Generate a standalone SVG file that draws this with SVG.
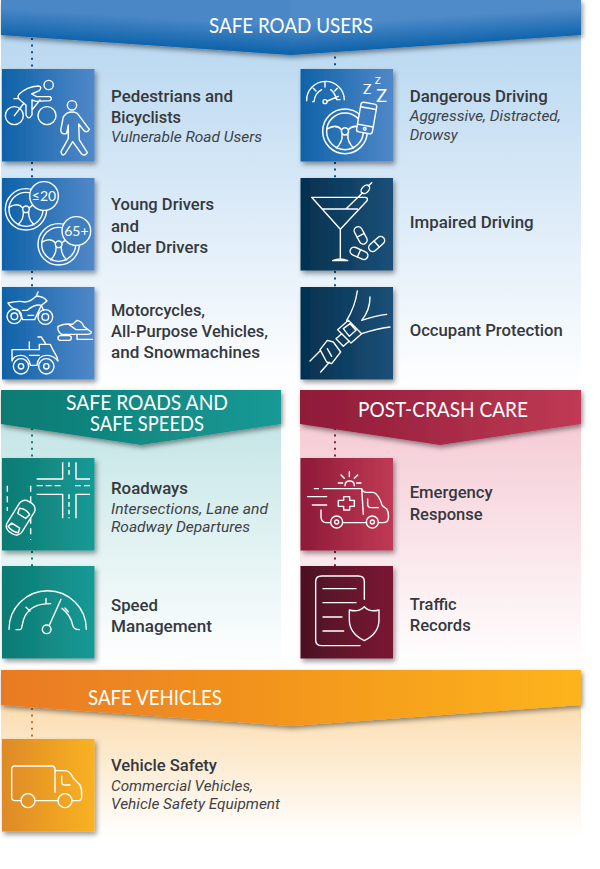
<svg xmlns="http://www.w3.org/2000/svg" xmlns:xlink="http://www.w3.org/1999/xlink" width="600" height="869" viewBox="0 0 600 869">
<style>
.t{font-family:"Roboto","Liberation Sans",sans-serif;font-weight:500;font-size:16.5px;fill:#35383d}
.s{font-family:"Roboto","Liberation Sans",sans-serif;font-weight:400;font-style:italic;font-size:15px;fill:#3f4247}
.b{font-family:"Lato","Liberation Sans",sans-serif;font-weight:400;font-size:21px;fill:#fff}
.i{fill:none;stroke:#fff;stroke-width:4.2;stroke-linecap:round;stroke-linejoin:round}
.d{fill:none;stroke-width:2;stroke-dasharray:2 4.6}
.l{font-family:"Lato","Liberation Sans",sans-serif;fill:#fff;stroke:none;font-size:42px}
</style>
<defs>
<linearGradient id="gB" x1="0" x2="1" y1="0" y2="0"><stop offset="0" stop-color="#0f62a8"/><stop offset="1" stop-color="#5088c8"/></linearGradient>
<linearGradient id="gN" x1="0" x2="1" y1="0" y2="0"><stop offset="0" stop-color="#04304f"/><stop offset="1" stop-color="#1c5078"/></linearGradient>
<linearGradient id="gT" x1="0" x2="1" y1="0" y2="0"><stop offset="0" stop-color="#0e7a72"/><stop offset="1" stop-color="#169a96"/></linearGradient>
<linearGradient id="gC" x1="0" x2="1" y1="0" y2="0"><stop offset="0" stop-color="#8d1a38"/><stop offset="1" stop-color="#c03a54"/></linearGradient>
<linearGradient id="gM" x1="0" x2="1" y1="0" y2="0"><stop offset="0" stop-color="#4e1126"/><stop offset="1" stop-color="#7a1432"/></linearGradient>
<linearGradient id="gO" x1="0" x2="1" y1="0" y2="0"><stop offset="0" stop-color="#de8a25"/><stop offset="1" stop-color="#f9b224"/></linearGradient>
<linearGradient id="bnO" x1="0" x2="1" y1="0" y2="0"><stop offset="0" stop-color="#e97a22"/><stop offset="1" stop-color="#fdb41b"/></linearGradient>
<linearGradient id="bnL" gradientUnits="userSpaceOnUse" x1="146" y1="45" x2="147.700" y2="17"><stop offset="0" stop-color="#0f64ab"/><stop offset="1" stop-color="#4a87c7"/></linearGradient>
<linearGradient id="bnR" gradientUnits="userSpaceOnUse" x1="436" y1="45" x2="434.300" y2="17"><stop offset="0" stop-color="#0f64ab"/><stop offset="1" stop-color="#4f8ac9"/></linearGradient>
<linearGradient id="bgB" x1="0" x2="0" y1="0" y2="1"><stop offset="0" stop-color="#b8d7f0"/><stop offset="1" stop-color="#fff"/></linearGradient>
<linearGradient id="bgT" x1="0" x2="0" y1="0" y2="1"><stop offset="0" stop-color="#c4e5e6"/><stop offset="1" stop-color="#fff"/></linearGradient>
<linearGradient id="bgC" x1="0" x2="0" y1="0" y2="1"><stop offset="0" stop-color="#f5cbd5"/><stop offset="1" stop-color="#fff"/></linearGradient>
<linearGradient id="bgO" x1="0" x2="0" y1="0" y2="1"><stop offset="0" stop-color="#fbdcae"/><stop offset="1" stop-color="#fff"/></linearGradient>
<filter id="sh" x="-15%" y="-15%" width="135%" height="135%"><feDropShadow dx="2" dy="3" stdDeviation="2.5" flood-color="#000" flood-opacity=".4"/></filter>
<filter id="shb" x="-3%" y="-15%" width="106%" height="140%"><feDropShadow dx="1.500" dy="2.500" stdDeviation="2.500" flood-color="#000" flood-opacity=".45"/></filter>
<g id="wheel"><circle r="62"/><circle r="51"/><circle r="10"/><path d="M-51 -6Q-25 -22 -10 -5M51 -6Q25 -22 10 -5M-8 7Q-6 30 -24 46M8 7Q6 30 24 46"/></g>
</defs>

<g id="backgrounds">
<rect x="1" y="30" width="580" height="358" fill="url(#bgB)"/>
<rect x="1" y="420" width="280" height="248" fill="url(#bgT)"/>
<rect x="300" y="420" width="281" height="248" fill="url(#bgC)"/>
<rect x="1" y="700" width="580" height="140" fill="url(#bgO)"/>
</g>

<g id="connectors">
<path class="d" stroke="#0f4f8c" d="M32 38V68M32 162V178M32 271V287"/>
<path class="d" stroke="#0f4f8c" d="M335 50V68M335 162V178M335 271V287"/>
<path class="d" stroke="#0e7a72" d="M32 428V458M32 551V566"/>
<path class="d" stroke="#8d1a38" d="M335 428V458M335 551V566"/>
<path class="d" stroke="#c8701c" d="M32 708V739"/>
</g>

<g id="banner-safe-road-users">
<path d="M1 0H581V35L291 55L1 35Z" fill="#4a87c7" filter="url(#shb)"/>
<path d="M1 0H291.500V55L1 35Z" fill="url(#bnL)"/>
<path d="M291 0H581V35L291 55Z" fill="url(#bnR)"/>
<text class="b" x="209" y="33" textLength="164" lengthAdjust="spacingAndGlyphs">SAFE ROAD USERS</text>
</g>
<g id="banner-safe-roads">
<path d="M1 390H281V424L141 445L1 424Z" fill="url(#gT)" filter="url(#shb)"/>
<text class="b" x="66" y="409.500" textLength="162" lengthAdjust="spacingAndGlyphs">SAFE ROADS AND</text>
<text class="b" x="90" y="431" textLength="114" lengthAdjust="spacingAndGlyphs">SAFE SPEEDS</text>
</g>
<g id="banner-post-crash">
<path d="M300 390H581V424L440 445L300 424Z" fill="url(#gC)" filter="url(#shb)"/>
<text class="b" x="358" y="417" textLength="170" lengthAdjust="spacingAndGlyphs">POST-CRASH CARE</text>
</g>
<g id="banner-safe-vehicles">
<path d="M1 670H581V705L291 726L1 705Z" fill="url(#bnO)" filter="url(#shb)"/>
<text class="b" x="88" y="704.500" textLength="134" lengthAdjust="spacingAndGlyphs">SAFE VEHICLES</text>
</g>

<g id="node-pedestrians">
<rect x="2" y="69" width="92.500" height="92.500" fill="url(#gB)" filter="url(#sh)"/>
<g class="i" transform="scale(.33333)">
<circle cx="146" cy="255" r="14"/><circle cx="43" cy="347" r="27"/><circle cx="141" cy="347" r="27"/>
<path d="M42 296H52M57 283Q80 260 115 258Q128 260 118 272L95 282L110 290H150Q158 296 150 302L108 304L96 300V345Q86 362 78 345V315L60 300Q50 292 57 283ZM43 347L70 312M96 330L120 300"/>
<circle cx="216" cy="316" r="14"/>
<path d="M200 340Q216 332 232 340L268 388Q262 400 252 392L236 372L238 420L262 458Q255 470 245 462L218 425L195 462Q185 470 183 455L205 415V375L200 400Q185 405 182 392L190 350Z"/>
</g>
<text class="t" x="111" y="102" textLength="122" lengthAdjust="spacingAndGlyphs">Pedestrians and</text>
<text class="t" x="111" y="123" textLength="70" lengthAdjust="spacingAndGlyphs">Bicyclists</text>
<text class="s" x="111" y="142" textLength="151" lengthAdjust="spacingAndGlyphs">Vulnerable Road Users</text>
</g>

<g id="node-young-older">
<rect x="2" y="178" width="92.500" height="92.500" fill="url(#gB)" filter="url(#sh)"/>
<g class="i" transform="scale(.33333)">
<use xlink:href="#wheel" href="#wheel" x="78" y="628"/>
<circle cx="132" cy="588" r="43" fill="#2f75b8"/>
<text class="l" x="132" y="603" text-anchor="middle">≤20</text>
<use xlink:href="#wheel" href="#wheel" x="176" y="733"/>
<circle cx="229" cy="693" r="43" fill="#3f7fc0"/>
<text class="l" x="229" y="708" text-anchor="middle">65+</text>
</g>
<text class="t" x="111" y="210" textLength="103" lengthAdjust="spacingAndGlyphs">Young Drivers</text>
<text class="t" x="111" y="231.500" textLength="28" lengthAdjust="spacingAndGlyphs">and</text>
<text class="t" x="111" y="252.500" textLength="97" lengthAdjust="spacingAndGlyphs">Older Drivers</text>
</g>

<g id="node-motorcycles">
<rect x="2" y="287" width="92.500" height="92.500" fill="url(#gB)" filter="url(#sh)"/>
<g class="i" transform="translate(2 287) scale(.33333)">
<circle cx="37" cy="88" r="22"/><circle cx="37" cy="88" r="10"/><circle cx="130" cy="90" r="22"/><circle cx="130" cy="90" r="10"/>
<path d="M18 48Q50 40 68 45Q85 45 103 27L108 15M103 27Q125 28 135 42L118 55L125 70M18 48Q25 62 50 72L62 98H98L118 55Q100 50 75 70H62M78 85H95"/>
<path d="M168 118Q190 108 212 112L225 100Q240 102 245 118L268 135Q268 142 255 142H178Q165 130 168 118ZM225 142V157H272M200 112L222 128H255"/>
<rect x="168" y="146" width="40" height="14" rx="7"/>
<circle cx="57" cy="238" r="23"/><circle cx="57" cy="238" r="8"/><circle cx="133" cy="238" r="23"/><circle cx="133" cy="238" r="8"/>
<path d="M30 222V188H82V165M108 150H118L132 172H145Q150 185 165 210L168 222M30 222Q35 205 57 205Q80 205 85 235H105Q108 205 133 205Q155 205 168 222M82 188H112V172H132M82 205H112"/>
</g>
<text class="t" x="111" y="316" textLength="94" lengthAdjust="spacingAndGlyphs">Motorcycles,</text>
<text class="t" x="111" y="337" textLength="157" lengthAdjust="spacingAndGlyphs">All-Purpose Vehicles,</text>
<text class="t" x="111" y="358" textLength="149" lengthAdjust="spacingAndGlyphs">and Snowmachines</text>
</g>

<g id="node-dangerous">
<rect x="300.500" y="69" width="92.500" height="92.500" fill="url(#gB)" filter="url(#sh)"/>
<g class="i" transform="translate(300 69) scale(.33333)">
<path d="M20 95A56 56 0 0 1 133 92M38 98H42Q45 72 65 62M92 62Q105 72 110 92H120M75 40V54M40 58L48 66M112 58L104 66M82 96L115 82"/>
<circle cx="75" cy="98" r="6"/>
<use xlink:href="#wheel" href="#wheel" transform="translate(135 187) scale(1.08)"/>
<g transform="rotate(10 200 147)"><rect x="176" y="102" width="48" height="90" rx="8" fill="#3d7dbf"/><path d="M176 117H224M176 170H224"/><circle cx="200" cy="180" r="4"/></g>
<text x="189" y="76" style="font-family:'Lato',sans-serif;font-size:42px;fill:#fff;stroke:none">Z<tspan x="224" y="44" style="font-size:30px">Z</tspan><tspan x="229" y="98" style="font-size:54px">Z</tspan></text>
</g>
<text class="t" x="409.700" y="102" textLength="138" lengthAdjust="spacingAndGlyphs">Dangerous Driving</text>
<text class="s" x="409.700" y="121" textLength="151" lengthAdjust="spacingAndGlyphs">Aggressive, Distracted,</text>
<text class="s" x="409.700" y="139.500" textLength="48" lengthAdjust="spacingAndGlyphs">Drowsy</text>
</g>

<g id="node-impaired">
<rect x="300.500" y="178" width="92.500" height="92.500" fill="url(#gN)" filter="url(#sh)"/>
<g class="i" transform="translate(295 0) scale(.33333)">
<path d="M50 592H210Q220 592 216 602L136 688ZM82 627H187M136 688V778M113 782Q136 772 158 782ZM155 625L203 578M220 558L230 548"/>
<ellipse cx="211" cy="568" rx="15" ry="10" transform="rotate(-45 211 568)"/>
<g transform="rotate(62 197 706)"><rect x="169" y="694" width="56" height="24" rx="12"/><path d="M197 694V718"/></g>
<g transform="rotate(-42 245 732)"><rect x="217" y="720" width="56" height="24" rx="12"/><path d="M245 720V744"/></g>
<g transform="rotate(24 192 760)"><rect x="164" y="748" width="56" height="24" rx="12"/><path d="M192 748V772"/></g>
</g>
<text class="t" x="409.700" y="227.500" textLength="124" lengthAdjust="spacingAndGlyphs">Impaired Driving</text>
</g>

<g id="node-occupant">
<rect x="300.500" y="287" width="92.500" height="92.500" fill="url(#gN)" filter="url(#sh)"/>
<g class="i" transform="translate(300 287) scale(.33333)">
<path d="M172 12Q165 60 140 100M210 30Q210 70 185 100Q230 85 260 82M185 140Q230 125 270 120"/>
<path d="M113 128L145 100L185 140L153 168Z M130 125L150 110L168 130L148 148Z"/>
<path d="M125 140L108 155L130 178L147 163"/>
<path d="M60 188L82 160L100 165L122 195L95 230L80 225Z"/>
<path d="M82 185L95 208M30 222L60 192M62 255L88 226"/>
</g>
<text class="t" x="409.700" y="336" textLength="153" lengthAdjust="spacingAndGlyphs">Occupant Protection</text>
</g>

<g id="node-roadways">
<rect x="2" y="458" width="92.500" height="92.500" fill="url(#gT)" filter="url(#sh)"/>
<g class="i" transform="translate(0 275) scale(.33333)" style="stroke-linecap:butt">
<path d="M188 562V612H110M228 562V612H270M110 658H188V730M228 730V658H270"/>
<path d="M207 562V604" stroke-dasharray="14 9"/><path d="M207 658V730" stroke-dasharray="14 9"/>
<path d="M110 632H182" stroke-dasharray="18 9"/><path d="M225 632H270" stroke-dasharray="18 9"/>
<path d="M22 632V708" stroke-dasharray="18 14"/><path d="M92 632V795" stroke-dasharray="18 14"/>
<g transform="rotate(32 62 728)"><rect x="36" y="674" width="52" height="108" rx="20" fill="#11807a"/><path d="M44 706Q62 696 80 706L76 722H48ZM48 756H76L80 770Q62 778 44 770Z"/></g>
</g>
<text class="t" x="111" y="494" textLength="77" lengthAdjust="spacingAndGlyphs">Roadways</text>
<text class="s" x="111" y="513.700" textLength="157" lengthAdjust="spacingAndGlyphs">Intersections, Lane and</text>
<text class="s" x="111" y="532" textLength="139" lengthAdjust="spacingAndGlyphs">Roadway Departures</text>
</g>

<g id="node-speed">
<rect x="2" y="566" width="92.500" height="92.500" fill="url(#gT)" filter="url(#sh)"/>
<g class="i" transform="translate(0 560) scale(.33333)">
<path d="M27 208A116 116 0 0 1 259 208M48 209H60C68 209 64 190 75 168C90 142 112 131 152 131M186 145Q212 165 218 195Q220 209 238 209M138 115V130M78 142L90 153M195 144L205 155M148 196L183 118"/>
<circle cx="140" cy="208" r="13"/>
</g>
<text class="t" x="111" y="610.700" textLength="47" lengthAdjust="spacingAndGlyphs">Speed</text>
<text class="t" x="111" y="631.700" textLength="101" lengthAdjust="spacingAndGlyphs">Management</text>
</g>

<g id="node-emergency">
<rect x="300.500" y="458" width="92.500" height="92.500" fill="url(#gC)" filter="url(#sh)"/>
<g class="i" transform="translate(295 275) scale(.33333)">
<path d="M150 632Q150 618 164 618Q178 618 178 632M130 624H143M185 624H198M163 590V605M138 600L148 610M188 600L178 610"/>
<path d="M58 641H70M85 641H200L205 718M200 641Q204 652 215 652H235Q250 655 262 692L275 702Q282 712 280 730Q278 743 265 743H252M212 743H146M105 743H92Q78 740 78 725V705M38 665H95M52 690H95M218 672V688Q218 698 228 698H250"/>
<path d="M146 665H164V676H178V694H164V705H146V694H130V676H146Z"/>
<circle cx="125" cy="741" r="18"/><circle cx="125" cy="741" r="6"/><circle cx="232" cy="741" r="18"/><circle cx="232" cy="741" r="6"/>
</g>
<text class="t" x="409.700" y="498" textLength="83" lengthAdjust="spacingAndGlyphs">Emergency</text>
<text class="t" x="409.700" y="520" textLength="73" lengthAdjust="spacingAndGlyphs">Response</text>
</g>

<g id="node-traffic">
<rect x="300.500" y="566" width="92.500" height="92.500" fill="url(#gM)" filter="url(#sh)"/>
<g class="i" transform="translate(295 560) scale(.33333)">
<path d="M195 257H80Q62 257 62 240V65Q62 48 80 48H190Q208 48 208 65V118M84 86H183M84 128H183M84 171H141M84 213H146"/>
<path d="M163 150Q190 158 208 140Q225 158 252 150V180Q252 220 208 242Q163 220 163 180Z"/>
</g>
<text class="t" x="409.700" y="610" textLength="47" lengthAdjust="spacingAndGlyphs">Traffic</text>
<text class="t" x="409.700" y="631" textLength="61" lengthAdjust="spacingAndGlyphs">Records</text>
</g>

<g id="node-vehicle">
<rect x="2" y="739" width="92.500" height="92.500" fill="url(#gO)" filter="url(#sh)"/>
<g class="i" transform="translate(0 560) scale(.33333)">
<path d="M165 697V628Q165 618 155 618H45Q35 618 35 628V712Q35 722 45 722H62M106 722H173M168 632H195Q210 632 220 655L240 675Q247 690 245 710Q245 722 235 722H218M185 648V665Q185 675 195 675H210"/>
<circle cx="84" cy="722" r="21"/><circle cx="195" cy="722" r="21"/>
</g>
<text class="t" x="111" y="771" textLength="106" lengthAdjust="spacingAndGlyphs">Vehicle Safety</text>
<text class="s" x="111" y="790.700" textLength="142" lengthAdjust="spacingAndGlyphs">Commercial Vehicles,</text>
<text class="s" x="111" y="809.300" textLength="169" lengthAdjust="spacingAndGlyphs">Vehicle Safety Equipment</text>
</g>
</svg>
